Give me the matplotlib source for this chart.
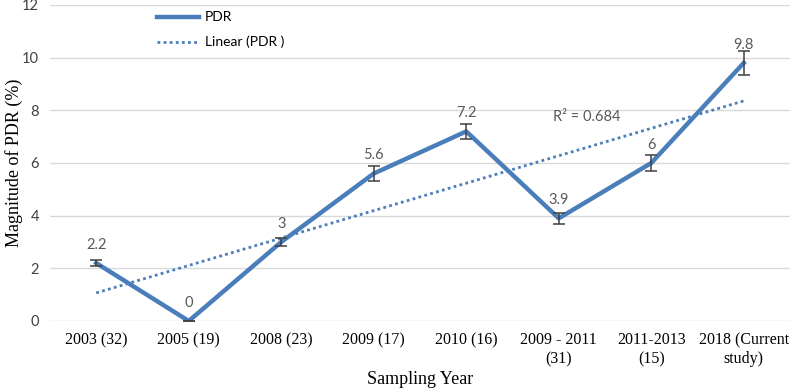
import matplotlib.pyplot as plt
import numpy as np

categories = ["2003 (32)", "2005 (19)", "2008 (23)", "2009 (17)", "2010 (16)",
              "2009 - 2011\n(31)", "2011-2013\n(15)", "2018 (Current\nstudy)"]
pdr = [2.2, 0, 3, 5.6, 7.2, 3.9, 6, 9.8]
pdr_err = [0.1, 0.0, 0.17, 0.3, 0.3, 0.2, 0.3, 0.45]
r2_label = "R\u00b2 = 0.684"

blue = "#4a7ebb"
gray_text = "#595959"
serif = "Liberation Serif"
sans = "Lato"

fig = plt.figure(figsize=(7.97, 3.92), dpi=100)
ax = fig.add_axes([50/797, 71/392, 740/797, 316/392])

x = np.arange(len(pdr))
ax.plot(x, pdr, color=blue, lw=3.2, label="PDR", zorder=3)
ax.errorbar(x, pdr, yerr=pdr_err, fmt="none", ecolor="#404040",
            elinewidth=1.1, capsize=4, capthick=1.1, zorder=4)

# linear trend (Excel style, x = 1..n)
k, b = np.polyfit(x + 1, pdr, 1)
ax.plot(x, k * (x + 1) + b, color=blue, lw=2, ls=(0, (1, 1.2)),
        label="Linear (PDR )", zorder=2)

for xi, yi in zip(x, pdr):
    ax.annotate(f"{yi:g}", (xi, yi), xytext=(0, 13), textcoords="offset points",
                ha="center", va="center", fontsize=10.5, color=gray_text,
                family=sans)

ax.text(5.3, 7.75, r2_label, ha="center", va="center", fontsize=10.5,
        color=gray_text, family=sans)

ax.set_xlim(-0.5, 7.5)
ax.set_ylim(0, 12)
ax.set_yticks(range(0, 13, 2))
ax.set_xticks(x)
ax.set_xticklabels(categories, family=serif, fontsize=11.5, linespacing=1.25)
for lab in ax.get_yticklabels():
    lab.set_family(sans)
    lab.set_fontsize(10.5)
    lab.set_color("#404040")
ax.tick_params(length=0, pad=8)
ax.tick_params(axis="x", pad=8)

ax.grid(axis="y", color="#d9d9d9", lw=1)
ax.set_axisbelow(True)
for s in ax.spines.values():
    s.set_visible(False)

ax.set_xlabel("Sampling Year", family=serif, fontsize=13, labelpad=3)
ax.set_ylabel("Magnitude of PDR (%)", family=serif, fontsize=13)
ax.yaxis.set_label_coords(-0.036, 0.5)

leg = ax.legend(loc="upper left", bbox_to_anchor=(0.13, 1.015), frameon=True,
                prop={"family": sans, "size": 10}, labelspacing=0.9,
                handlelength=3.0, handletextpad=0.4, borderpad=0.3)
leg.get_frame().set_facecolor("white")
leg.get_frame().set_edgecolor("none")
leg.get_frame().set_alpha(1)

fig.savefig("out.png", dpi=100)
